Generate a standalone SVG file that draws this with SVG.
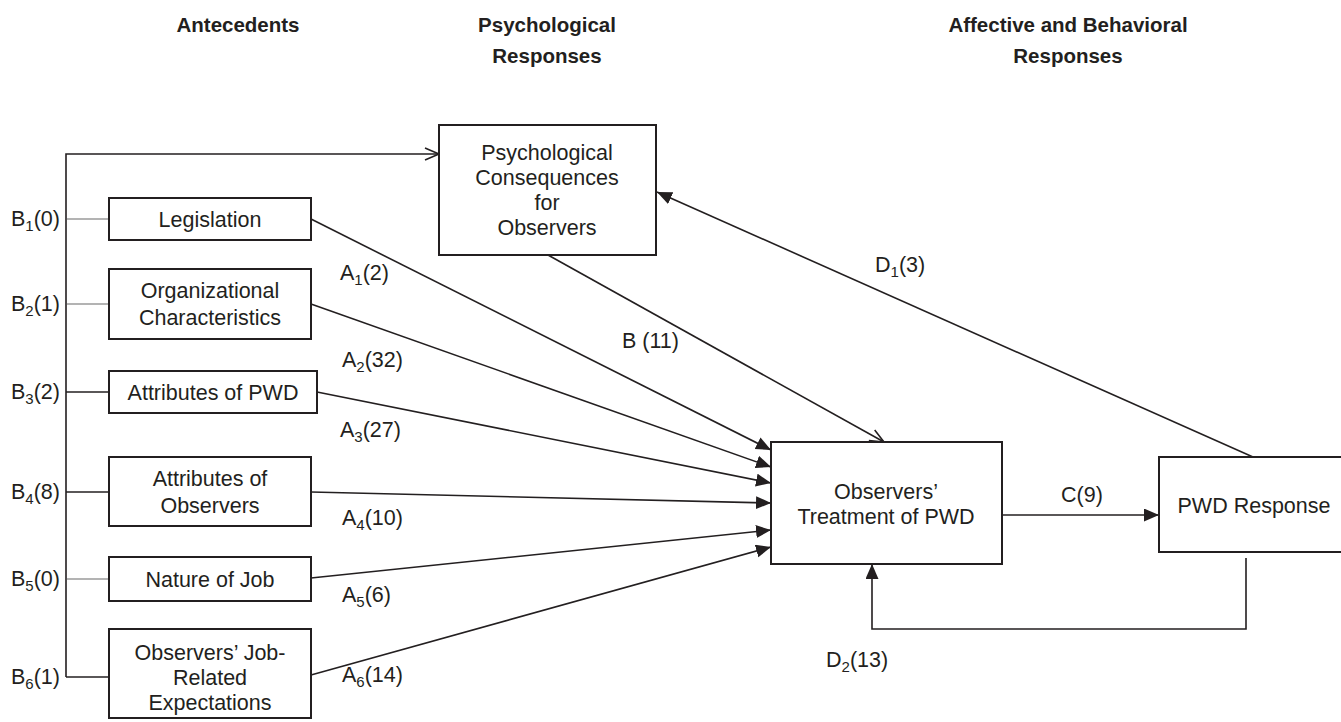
<svg xmlns="http://www.w3.org/2000/svg" width="1341" height="722" viewBox="0 0 1341 722">
<defs>
<style>
text{font-family:"Liberation Sans",Arial,Helvetica,sans-serif;font-size:21.5px;fill:#231f20}
.h{font-weight:bold;font-size:20.5px;text-anchor:middle}
.c{text-anchor:middle}
.box{fill:#fff;stroke:#231f20;stroke-width:2}
.ln{fill:none;stroke:#231f20;stroke-width:1.6}
.gl{fill:none;stroke:#9a9a9a;stroke-width:1.6}
.sub{font-size:15px}
</style>
<marker id="fa" markerUnits="userSpaceOnUse" markerWidth="16" markerHeight="14" refX="15" refY="6.5" orient="auto">
<path d="M0,0 L15,6.5 L0,13 z" fill="#231f20"/>
</marker>
<marker id="oa" markerUnits="userSpaceOnUse" markerWidth="18" markerHeight="16" refX="15" refY="7" orient="auto">
<path d="M1,1 L15,7 L1,13" fill="none" stroke="#231f20" stroke-width="1.6"/>
</marker>
</defs>
<rect width="1341" height="722" fill="#fff"/>

<g id="headings">
<text class="h" x="238" y="32">Antecedents</text>
<text class="h" x="547" y="32">Psychological</text>
<text class="h" x="547" y="63">Responses</text>
<text class="h" x="1068" y="32">Affective and Behavioral</text>
<text class="h" x="1068" y="63">Responses</text>
</g>

<g id="connectors">
<polyline class="ln" points="66,677 66,154 439,154" marker-end="url(#oa)"/>
<line class="ln" x1="66" y1="677" x2="109" y2="677"/>
<line class="gl" x1="67" y1="219" x2="109" y2="219"/>
<line class="gl" x1="67" y1="304" x2="109" y2="304"/>
<line class="ln" x1="66" y1="392" x2="109" y2="392"/>
<line class="ln" x1="66" y1="492" x2="109" y2="492"/>
<line class="gl" x1="67" y1="579" x2="109" y2="579"/>
<line class="ln" x1="311" y1="219" x2="771" y2="450" marker-end="url(#fa)"/>
<line class="ln" x1="311" y1="304" x2="771" y2="467" marker-end="url(#fa)"/>
<line class="ln" x1="317" y1="392" x2="771" y2="483" marker-end="url(#fa)"/>
<line class="ln" x1="311" y1="492" x2="771" y2="503" marker-end="url(#fa)"/>
<line class="ln" x1="311" y1="578" x2="771" y2="530" marker-end="url(#fa)"/>
<line class="ln" x1="311" y1="675" x2="771" y2="547" marker-end="url(#fa)"/>
<line class="ln" x1="548" y1="255" x2="884" y2="442" marker-end="url(#oa)"/>
<line class="ln" x1="1253" y1="457" x2="657" y2="192" marker-end="url(#fa)"/>
<line class="ln" x1="1002" y1="515" x2="1159" y2="515" marker-end="url(#fa)"/>
<polyline class="ln" points="1246,558 1246,629 872,629 872,564" marker-end="url(#fa)"/>
</g>

<g id="labels">
<text x="11" y="226">B<tspan class="sub" dy="5">1</tspan><tspan dy="-5">(0)</tspan></text>
<text x="11" y="311">B<tspan class="sub" dy="5">2</tspan><tspan dy="-5">(1)</tspan></text>
<text x="11" y="399">B<tspan class="sub" dy="5">3</tspan><tspan dy="-5">(2)</tspan></text>
<text x="11" y="499">B<tspan class="sub" dy="5">4</tspan><tspan dy="-5">(8)</tspan></text>
<text x="11" y="586">B<tspan class="sub" dy="5">5</tspan><tspan dy="-5">(0)</tspan></text>
<text x="11" y="684">B<tspan class="sub" dy="5">6</tspan><tspan dy="-5">(1)</tspan></text>
<text x="340" y="280">A<tspan class="sub" dy="5">1</tspan><tspan dy="-5">(2)</tspan></text>
<text x="342" y="367">A<tspan class="sub" dy="5">2</tspan><tspan dy="-5">(32)</tspan></text>
<text x="340" y="437">A<tspan class="sub" dy="5">3</tspan><tspan dy="-5">(27)</tspan></text>
<text x="342" y="525">A<tspan class="sub" dy="5">4</tspan><tspan dy="-5">(10)</tspan></text>
<text x="342" y="602">A<tspan class="sub" dy="5">5</tspan><tspan dy="-5">(6)</tspan></text>
<text x="342" y="682">A<tspan class="sub" dy="5">6</tspan><tspan dy="-5">(14)</tspan></text>
<text x="622" y="348">B (11)</text>
<text x="875" y="272">D<tspan class="sub" dy="5">1</tspan><tspan dy="-5">(3)</tspan></text>
<text class="c" x="1082" y="502">C(9)</text>
<text x="826" y="667">D<tspan class="sub" dy="5">2</tspan><tspan dy="-5">(13)</tspan></text>
</g>

<g id="legislation">
<rect class="box" x="109" y="198" width="202" height="42"/>
<text class="c" x="210" y="227">Legislation</text>
</g>
<g id="organizational">
<rect class="box" x="109" y="269" width="202" height="70"/>
<text class="c" x="210" y="298">Organizational</text>
<text class="c" x="210" y="325">Characteristics</text>
</g>
<g id="attributes-pwd">
<rect class="box" x="109" y="371" width="208" height="42"/>
<text class="c" x="213" y="400">Attributes of PWD</text>
</g>
<g id="attributes-observers">
<rect class="box" x="109" y="457" width="202" height="69"/>
<text class="c" x="210" y="486">Attributes of</text>
<text class="c" x="210" y="513">Observers</text>
</g>
<g id="nature-of-job">
<rect class="box" x="109" y="557" width="202" height="44"/>
<text class="c" x="210" y="587">Nature of Job</text>
</g>
<g id="job-expectations">
<rect class="box" x="109" y="629" width="202" height="89"/>
<text class="c" x="210" y="660">Observers’ Job-</text>
<text class="c" x="210" y="685">Related</text>
<text class="c" x="210" y="710">Expectations</text>
</g>
<g id="psych-consequences">
<rect class="box" x="439" y="125" width="217" height="130"/>
<text class="c" x="547" y="160">Psychological</text>
<text class="c" x="547" y="185">Consequences</text>
<text class="c" x="547" y="210">for</text>
<text class="c" x="547" y="235">Observers</text>
</g>
<g id="observers-treatment">
<rect class="box" x="771" y="442" width="231" height="122"/>
<text class="c" x="886" y="499">Observers’</text>
<text class="c" x="886" y="524">Treatment of PWD</text>
</g>
<g id="pwd-response">
<rect class="box" x="1159" y="457" width="190" height="95"/>
<text class="c" x="1254" y="513">PWD Response</text>
</g>
</svg>
